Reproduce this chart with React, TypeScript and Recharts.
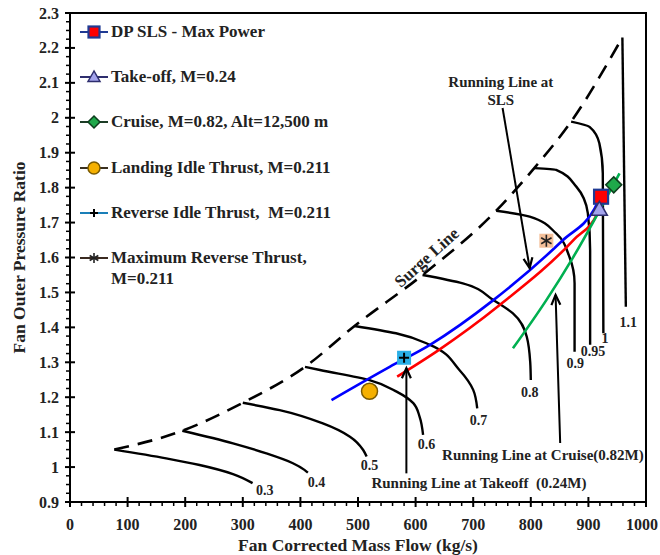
import React from 'react';
import {
  ComposedChart,
  Line,
  Scatter,
  XAxis,
  YAxis,
  ReferenceArea,
  ReferenceLine,
  ReferenceDot,
  Legend,
} from 'recharts';

const FONT = '"Liberation Serif", "Times New Roman", serif';

// axis ticks (major)
const xTicks = [0, 100, 200, 300, 400, 500, 600, 700, 800, 900, 1000];
const yTicks = [0.9, 1, 1.1, 1.2, 1.3, 1.4, 1.5, 1.6, 1.7, 1.8, 1.9, 2, 2.1, 2.2, 2.3];

// surge line, through the start of every speed line
const surgeLine = [
  { x: 77, y: 1.05 }, { x: 195, y: 1.104 }, { x: 300, y: 1.184 }, { x: 408, y: 1.287 },
  { x: 494, y: 1.404 }, { x: 612, y: 1.55 }, { x: 740, y: 1.734 }, { x: 806, y: 1.856 },
  { x: 870, y: 1.989 }, { x: 959, y: 2.23 },
];

// constant speed lines
const speed03 = [{ x: 77, y: 1.05 }, { x: 167, y: 1.025 }, { x: 225, y: 1.006 }, { x: 283, y: 0.98 }, { x: 317, y: 0.954 }];
const speed04 = [{ x: 195, y: 1.104 }, { x: 283, y: 1.068 }, { x: 341, y: 1.039 }, { x: 387, y: 1.011 }, { x: 407, y: 0.992 }, { x: 413, y: 0.984 }];
const speed05 = [{ x: 300, y: 1.184 }, { x: 364, y: 1.163 }, { x: 439, y: 1.125 }, { x: 486, y: 1.087 }, { x: 509, y: 1.049 }, { x: 515, y: 1.03 }];
const speed06 = [{ x: 408, y: 1.287 }, { x: 434, y: 1.278 }, { x: 520, y: 1.249 }, { x: 567, y: 1.216 }, { x: 596, y: 1.183 }, { x: 607, y: 1.144 }, { x: 613, y: 1.092 }];
const speed07 = [{ x: 494, y: 1.404 }, { x: 566, y: 1.383 }, { x: 625, y: 1.35 }, { x: 676, y: 1.278 }, { x: 700, y: 1.221 }, { x: 707, y: 1.168 }];
const speed08 = [{ x: 612, y: 1.55 }, { x: 682, y: 1.526 }, { x: 735, y: 1.478 }, { x: 769, y: 1.44 }, { x: 793, y: 1.373 }, { x: 799, y: 1.3 }, { x: 800, y: 1.249 }];
const speed09 = [{ x: 740, y: 1.734 }, { x: 798, y: 1.717 }, { x: 844, y: 1.669 }, { x: 867, y: 1.602 }, { x: 876, y: 1.526 }, { x: 876, y: 1.33 }];
const speed095 = [{ x: 806, y: 1.856 }, { x: 844, y: 1.851 }, { x: 879, y: 1.803 }, { x: 899, y: 1.727 }, { x: 903, y: 1.621 }, { x: 903, y: 1.35 }];
const speed10 = [{ x: 870, y: 1.989 }, { x: 902, y: 1.974 }, { x: 919, y: 1.927 }, { x: 925, y: 1.841 }, { x: 926, y: 1.383 }];
const speed11 = [{ x: 959, y: 2.23 }, { x: 965, y: 1.459 }];

const speedLines = [speed03, speed04, speed05, speed06, speed07, speed08, speed09, speed095, speed10, speed11];
const speedNames = ['0.3', '0.4', '0.5', '0.6', '0.7', '0.8', '0.9', '0.95', '1', '1.1'];

// running lines
const runSLS = [{ x: 454, y: 1.192 }, { x: 555, y: 1.287 }, { x: 625, y: 1.35 }, { x: 735, y: 1.478 }, { x: 856, y: 1.65 }, { x: 911, y: 1.741 }, { x: 922, y: 1.778 }];
const runTakeoff = [{ x: 568, y: 1.259 }, { x: 640, y: 1.335 }, { x: 746, y: 1.464 }, { x: 874, y: 1.65 }, { x: 917, y: 1.731 }, { x: 926, y: 1.772 }];
const runCruise = [{ x: 769, y: 1.34 }, { x: 827, y: 1.478 }, { x: 874, y: 1.602 }, { x: 954, y: 1.841 }];

// operating points
const dpSls = [{ x: 922, y: 1.774 }];
const takeoffPt = [{ x: 919, y: 1.738 }];
const cruisePt = [{ x: 944, y: 1.808 }];
const landingIdle = [{ x: 520, y: 1.217 }];
const reverseIdle = [{ x: 580, y: 1.313 }];
const maxReverse = [{ x: 827, y: 1.648 }];

const legendLabels = [
  'DP SLS - Max Power',
  'Take-off, M=0.24',
  'Cruise, M=0.82, Alt=12,500 m',
  'Landing Idle Thrust, M=0.211',
  'Reverse Idle Thrust,  M=0.211',
  'Maximum Reverse Thrust,\nM=0.211',
];

// minor tick positions
const xAllTicks: number[] = [];
for (let i = 0; i < xTicks.length - 1; i++) {
  for (let k = 0; k < 5; k++) xAllTicks.push(xTicks[i] + k * 20);
}
xAllTicks.push(1000);
const yAllTicks: number[] = [];
for (let i = 0; i < yTicks.length - 1; i++) {
  for (let k = 0; k < 4; k++) yAllTicks.push(Math.round((yTicks[i] + k * 0.025) * 1000) / 1000);
}
yAllTicks.push(2.3);

const isMajor = (list: number[], v: number) => list.some((t) => Math.abs(t - v) < 1e-6);

const XTick = (p: any) => {
  const { x, y, payload } = p;
  const major = isMajor(xTicks, payload.value);
  // keep the last label inside the picture
  const lx = Math.min(x, 659 - 17);
  return (
    <g>
      <line x1={x} x2={x} y1={major ? y - 5 : y} y2={y + (major ? 5 : 4)} stroke="#000" strokeWidth={major ? 2 : 1.5} />
      {major && (
        <text x={lx} y={y + 28} textAnchor="middle" fontFamily={FONT} fontWeight="bold" fontSize={16} fill="#222">
          {payload.value}
        </text>
      )}
    </g>
  );
};

const YTick = (p: any) => {
  const { x, y, payload } = p;
  const major = isMajor(yTicks, payload.value);
  return (
    <g>
      <line x1={major ? x - 5 : x - 4} x2={major ? x + 5 : x} y1={y} y2={y} stroke="#000" strokeWidth={major ? 2 : 1.5} />
      {major && (
        <text x={x - 11} y={y + 5.5} textAnchor="end" fontFamily={FONT} fontWeight="bold" fontSize={16} fill="#222">
          {payload.value}
        </text>
      )}
    </g>
  );
};

// markers
const SquareMark = ({ cx, cy, s = 7 }: any) => (
  <rect x={cx - s} y={cy - s} width={s * 2} height={s * 2} fill="#ff0000" stroke="#1f3a93" strokeWidth={2.2} />
);
const TriangleMark = ({ cx, cy, s = 8 }: any) => (
  <polygon points={`${cx},${cy - s} ${cx - s},${cy + s * 0.75} ${cx + s},${cy + s * 0.75}`} fill="#a3a3ec" stroke="#2e2e6e" strokeWidth={1.5} />
);
const DiamondMark = ({ cx, cy, s = 8 }: any) => (
  <polygon points={`${cx},${cy - s} ${cx + s},${cy} ${cx},${cy + s} ${cx - s},${cy}`} fill="#1fa84a" stroke="#0d3d1d" strokeWidth={1.5} />
);
const CircleMark = ({ cx, cy, s = 8 }: any) => (
  <circle cx={cx} cy={cy} r={s} fill="#f5b000" stroke="#7a5a00" strokeWidth={1.5} />
);
const PlusMark = ({ cx, cy, s = 7, box = true }: any) => (
  <g>
    {box && <rect x={cx - s} y={cy - s} width={s * 2} height={s * 2} fill="#2aaee6" />}
    <line x1={cx - s + 2} x2={cx + s - 2} y1={cy} y2={cy} stroke="#000" strokeWidth={2} />
    <line x1={cx} x2={cx} y1={cy - s + 2} y2={cy + s - 2} stroke="#000" strokeWidth={2} />
  </g>
);
const StarMark = ({ cx, cy, s = 7, box = true }: any) => {
  const r = s - 1;
  const dx = r * Math.sin(Math.PI / 3);
  const dy = r * Math.cos(Math.PI / 3);
  return (
    <g>
      {box && <rect x={cx - s} y={cy - s} width={s * 2} height={s * 2} fill="#f4c09a" />}
      <line x1={cx} x2={cx} y1={cy - r} y2={cy + r} stroke="#222" strokeWidth={1.6} />
      <line x1={cx - dx} x2={cx + dx} y1={cy - dy} y2={cy + dy} stroke="#222" strokeWidth={1.6} />
      <line x1={cx - dx} x2={cx + dx} y1={cy + dy} y2={cy - dy} stroke="#222" strokeWidth={1.6} />
    </g>
  );
};

const legendIcons = [
  { line: '#1f3a93', icon: (cx: number, cy: number) => <SquareMark cx={cx} cy={cy} s={5.5} /> },
  { line: '#2e2e6e', icon: (cx: number, cy: number) => <TriangleMark cx={cx} cy={cy} s={6} /> },
  { line: '#1d3d26', icon: (cx: number, cy: number) => <DiamondMark cx={cx} cy={cy} s={6} /> },
  { line: '#3a3020', icon: (cx: number, cy: number) => <CircleMark cx={cx} cy={cy} s={6} /> },
  { line: '#1a7fb8', icon: (cx: number, cy: number) => <PlusMark cx={cx} cy={cy} s={6} box={false} /> },
  { line: '#3a2a20', icon: (cx: number, cy: number) => <StarMark cx={cx} cy={cy} s={6} box={false} /> },
];

const renderLegend = () => (
  <div style={{ position: 'relative', width: 300, height: 290, fontFamily: FONT, fontWeight: 'bold', fontSize: 17, color: '#222' }}>
    {legendLabels.map((label, i) => (
      <div key={label} style={{ position: 'absolute', left: 0, top: i * 45.2, display: 'flex', alignItems: 'flex-start' }}>
        <svg width={30} height={22} style={{ flex: 'none' }}>
          <line x1={1} x2={29} y1={11} y2={11} stroke={legendIcons[i].line} strokeWidth={2} />
          {legendIcons[i].icon(15, 11)}
        </svg>
        <span style={{ whiteSpace: 'pre', lineHeight: '21px', marginLeft: 2 }}>{label}</span>
      </div>
    ))}
  </div>
);

const Arrow = (p: any) => {
  const { x1, y1, x2, y2 } = p;
  const a = Math.atan2(y2 - y1, x2 - x1);
  const L = 11;
  const w = 0.42;
  const ax = x2 - L * Math.cos(a - w);
  const ay = y2 - L * Math.sin(a - w);
  const bx = x2 - L * Math.cos(a + w);
  const by = y2 - L * Math.sin(a + w);
  return (
    <g>
      <line x1={x1} y1={y1} x2={x2} y2={y2} stroke="#000" strokeWidth={2} />
      <polyline points={`${ax},${ay} ${x2},${y2} ${bx},${by}`} fill="none" stroke="#000" strokeWidth={2.2} />
    </g>
  );
};

const textShape = (lines: string[], size: number, angle = 0) => (p: any) => (
  <text
    x={p.cx}
    y={p.cy}
    textAnchor="middle"
    fontFamily={FONT}
    fontWeight="bold"
    fontSize={size}
    fill="#222"
    transform={angle ? `rotate(${angle} ${p.cx} ${p.cy})` : undefined}
  >
    {lines.map((l, i) => (
      <tspan key={i} x={p.cx} dy={i === 0 ? size * 0.35 : size * 1.15} style={{ whiteSpace: 'pre' }}>
        {l}
      </tspan>
    ))}
  </text>
);

// label spots next to the end of each speed line
const speedLabelSpots = [
  { x: 338, y: 0.934 }, { x: 428, y: 0.958 }, { x: 520, y: 1.006 }, { x: 619, y: 1.065 }, { x: 709, y: 1.135 },
  { x: 798, y: 1.214 }, { x: 877, y: 1.299 }, { x: 908, y: 1.332 }, { x: 929, y: 1.369 }, { x: 969, y: 1.416 },
];

const YTitle = (p: any) => {
  const vb = p.viewBox || { x: 0, y: 13, width: 70, height: 489 };
  const cx = vb.x + 19;
  const cy = vb.y + vb.height / 2;
  return (
    <text x={cx} y={cy} transform={`rotate(-90 ${cx} ${cy})`} textAnchor="middle" dominantBaseline="central" fontFamily={FONT} fontWeight="bold" fontSize={17.5} fill="#222">
      Fan Outer Pressure Ratio
    </text>
  );
};

const XTitle = (p: any) => {
  const vb = p.viewBox || { x: 70, y: 502, width: 576, height: 53 };
  return (
    <text x={vb.x + vb.width / 2} y={vb.y + 49} textAnchor="middle" fontFamily={FONT} fontWeight="bold" fontSize={17.5} fill="#222">
      Fan Corrected Mass Flow (kg/s)
    </text>
  );
};

export default function App() {
  return (
    <div style={{ position: 'absolute', left: 0, top: 0, width: 660, height: 555, background: '#fff' }}>
      <ComposedChart width={660} height={555} margin={{ top: 13, right: 14, bottom: 0, left: 0 }}>
        <XAxis
          type="number"
          dataKey="x"
          domain={[0, 1000]}
          ticks={xAllTicks}
          interval={0}
          tickSize={0}
          tickMargin={0}
          tickLine={false}
          axisLine={{ stroke: '#000', strokeWidth: 2 }}
          tick={(p: any) => <XTick {...p} />}
          height={53}
          allowDataOverflow
          label={{ content: (p: any) => <XTitle {...p} /> }}
        />
        <YAxis
          type="number"
          dataKey="y"
          domain={[0.9, 2.3]}
          ticks={yAllTicks}
          interval={0}
          tickSize={0}
          tickMargin={0}
          tickLine={false}
          axisLine={{ stroke: '#000', strokeWidth: 2 }}
          tick={(p: any) => <YTick {...p} />}
          width={70}
          allowDataOverflow
          label={{ content: (p: any) => <YTitle {...p} /> }}
        />
        <ReferenceArea x1={0} x2={1000} y1={0.9} y2={2.3} fill="none" stroke="#000" strokeWidth={2} fillOpacity={0} />

        <Line data={surgeLine} dataKey="y" type="monotoneX" stroke="#000" strokeWidth={2.6} strokeDasharray="15 9" dot={false} activeDot={false} isAnimationActive={false} />
        {speedLines.map((d, i) => (
          <Line key={speedNames[i]} data={d} dataKey="y" type="monotoneY" stroke="#000" strokeWidth={2.4} dot={false} activeDot={false} isAnimationActive={false} />
        ))}

        <Line data={runSLS} dataKey="y" type="monotoneX" stroke="#0000ff" strokeWidth={2.6} dot={false} activeDot={false} isAnimationActive={false} />
        <Line data={runTakeoff} dataKey="y" type="monotoneX" stroke="#ff0000" strokeWidth={2.6} dot={false} activeDot={false} isAnimationActive={false} />
        <Line data={runCruise} dataKey="y" type="monotoneX" stroke="#00b050" strokeWidth={2.6} dot={false} activeDot={false} isAnimationActive={false} />

        <Scatter data={dpSls} dataKey="y" shape={(p: any) => <SquareMark cx={p.cx} cy={p.cy} />} isAnimationActive={false} />
        <Scatter data={takeoffPt} dataKey="y" shape={(p: any) => <TriangleMark cx={p.cx} cy={p.cy} />} isAnimationActive={false} />
        <Scatter data={cruisePt} dataKey="y" shape={(p: any) => <DiamondMark cx={p.cx} cy={p.cy} />} isAnimationActive={false} />
        <Scatter data={landingIdle} dataKey="y" shape={(p: any) => <CircleMark cx={p.cx} cy={p.cy} />} isAnimationActive={false} />
        <Scatter data={reverseIdle} dataKey="y" shape={(p: any) => <PlusMark cx={p.cx} cy={p.cy} />} isAnimationActive={false} />
        <Scatter data={maxReverse} dataKey="y" shape={(p: any) => <StarMark cx={p.cx} cy={p.cy} />} isAnimationActive={false} />

        {/* annotations */}
        <ReferenceLine segment={[{ x: 751, y: 2.028 }, { x: 798, y: 1.57 }]} shape={Arrow} ifOverflow="visible" />
        <ReferenceLine segment={[{ x: 851, y: 1.069 }, { x: 843, y: 1.493 }]} shape={Arrow} ifOverflow="visible" />
        <ReferenceLine segment={[{ x: 584, y: 0.982 }, { x: 584, y: 1.283 }]} shape={Arrow} ifOverflow="visible" />

        <ReferenceDot x={748} y={2.102} r={0} ifOverflow="visible" shape={textShape(['Running Line at', 'SLS'], 15)} />
        <ReferenceDot x={821} y={1.035} r={0} ifOverflow="visible" shape={textShape(['Running Line at Cruise(0.82M)'], 15)} />
        <ReferenceDot x={710} y={0.954} r={0} ifOverflow="visible" shape={textShape(['Running Line at Takeoff  (0.24M)'], 15)} />
        <ReferenceDot x={619} y={1.601} r={0} ifOverflow="visible" shape={textShape(['Surge Line'], 17, -42)} />
        {speedLabelSpots.map((s, i) => (
          <ReferenceDot key={'lbl' + i} x={s.x} y={s.y} r={0} ifOverflow="visible" shape={textShape([speedNames[i]], 14)} />
        ))}

        <Legend
          layout="horizontal"
          verticalAlign="middle"
          align="center"
          wrapperStyle={{ left: 79, top: 21, width: 300, height: 290 }}
          content={renderLegend}
        />
      </ComposedChart>
    </div>
  );
}
